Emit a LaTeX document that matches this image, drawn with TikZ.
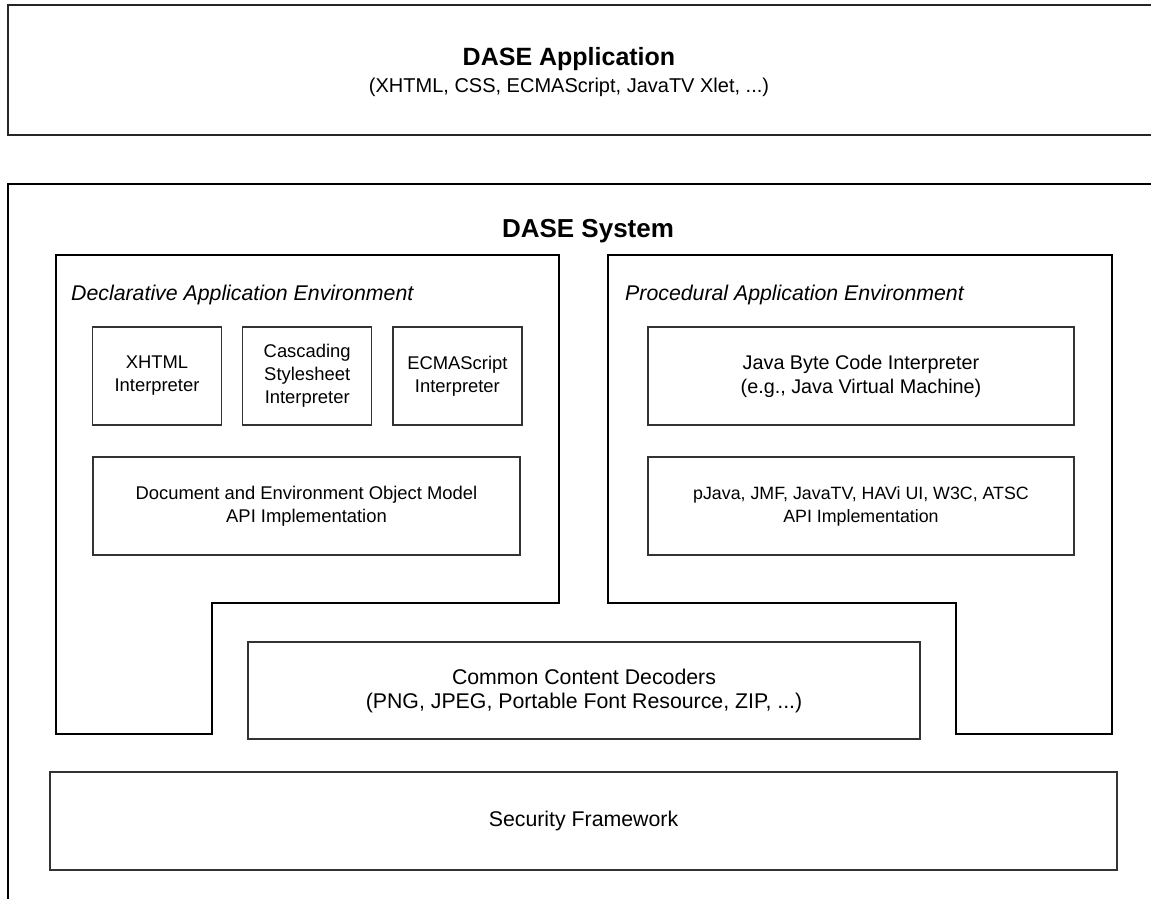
\documentclass[tikz,border=0pt]{standalone}
\usepackage{fontspec}
\setmainfont{Liberation Sans}
\usetikzlibrary{positioning}

\begin{document}
\begin{tikzpicture}[
            x = 1pt, y = -1pt, % one unit per pixel, y grows downwards
            outer/.style = {draw, line width=2pt},
            comp/.style = {draw=black!80, line width=1.2pt, align=center,
                           inner sep=0pt, minimum height=98pt,
                           font=\fontsize{18.4}{23}\selectfont},
            big/.style = {font=\fontsize{21.3}{24}\selectfont},
            heading/.style = {anchor=base, font=\fontsize{25}{30}\selectfont\bfseries},
            note/.style = {anchor=base, font=\fontsize{20}{24}\selectfont},
            envlabel/.style = {anchor=base west, inner sep=0pt,
                               font=\fontsize{21.3}{25}\selectfont\itshape},
            node distance = 20pt
        ]
	\clip (0,0) rectangle (1151,898);

	% application layer
	\draw[outer, line width=1.6pt, draw=black!85] (8,5) rectangle (1170,135);
	\node[heading] (app) at (569,65) {DASE Application};
	\node[note] (applangs) at (569,92) {(XHTML, CSS, ECMAScript, JavaTV Xlet, ...)};

	% system layer
	\draw[outer] (8,184) rectangle (1170,920);
	\node[heading, font=\fontsize{26}{30}\selectfont\bfseries] (sys) at (588,237) {DASE System};

	% the two environments
	\draw[outer] (56,255) -- (559,255) -- (559,603) -- (212,603)
		-- (212,734) -- (56,734) -- cycle;
	\draw[outer] (608,255) -- (1112,255) -- (1112,734) -- (956,734)
		-- (956,603) -- (608,603) -- cycle;
	\node[envlabel] (declenv) at (71,300) {Declarative Application Environment};
	\node[envlabel] (procenv) at (625,300) {Procedural Application Environment};

	% declarative components
	\node[comp, minimum width=129pt] (xhtml) at (157,376) {XHTML\\Interpreter};
	\node[comp, minimum width=129pt, right=of xhtml] (css) {Cascading\\Stylesheet\\Interpreter};
	\node[comp, minimum width=129pt, right=of css] (ecma) {ECMAScript\\Interpreter};
	\node[comp, minimum width=427pt] (dom) at (306.5,506)
		{Document and Environment Object Model\\API Implementation};

	% procedural components
	\node[comp, minimum width=426pt, font=\fontsize{19.8}{24}\selectfont] (jvm) at (861,376)
		{Java Byte Code Interpreter\\(e.g., Java Virtual Machine)};
	\node[comp, minimum width=426pt, font=\fontsize{17.8}{23}\selectfont] (japi) at (861,506)
		{pJava, JMF, JavaTV, HAVi UI, W3C, ATSC\\API Implementation};

	% shared parts
	\node[comp, big, minimum width=672pt, minimum height=97pt] (decoders) at (584,690.5)
		{Common Content Decoders\\(PNG, JPEG, Portable Font Resource, ZIP, ...)};
	\node[comp, big, minimum width=1067pt] (security) at (583.5,821) {Security Framework};

\end{tikzpicture}
\end{document}
